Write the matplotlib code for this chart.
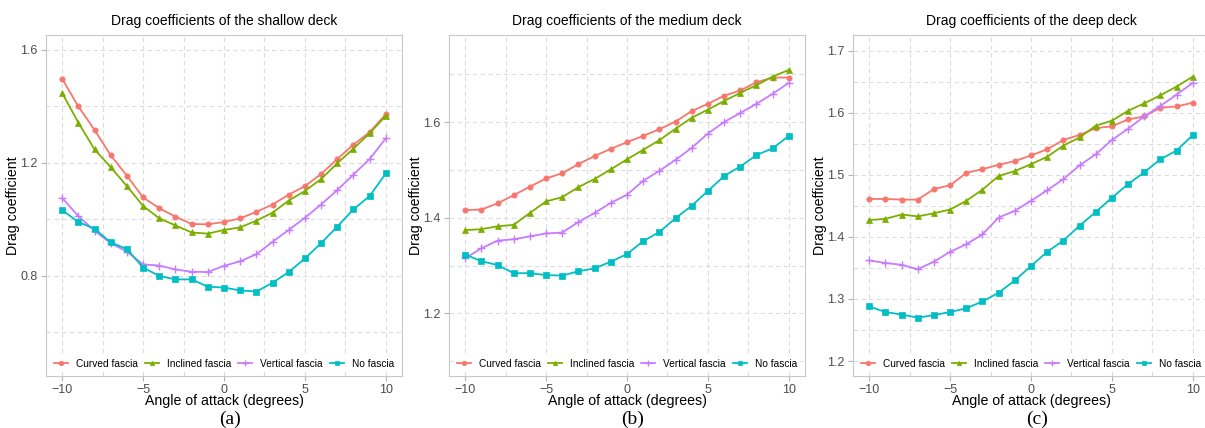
import numpy as np
import matplotlib.pyplot as plt
from matplotlib.ticker import MultipleLocator

plt.rcParams['font.family'] = ['Liberation Sans', 'DejaVu Sans']

angles = list(range(-10, 11))
series_names = ['Curved fascia', 'Inclined fascia', 'Vertical fascia', 'No fascia']
colors = ['#F8766D', '#7CAE00', '#C77CFF', '#00BFC4']
markers = ['o', '^', '+', 's']

# shallow deck
shallow_curved = [1.498, 1.400, 1.317, 1.227, 1.155, 1.078, 1.040, 1.010, 0.984, 0.983, 0.991,
                  1.004, 1.027, 1.053, 1.088, 1.118, 1.161, 1.214, 1.265, 1.309, 1.373]
shallow_inclined = [1.447, 1.343, 1.248, 1.185, 1.118, 1.048, 1.004, 0.979, 0.954, 0.950, 0.963,
                    0.972, 0.996, 1.024, 1.067, 1.101, 1.143, 1.199, 1.251, 1.305, 1.367]
shallow_vertical = [1.076, 1.012, 0.960, 0.916, 0.886, 0.841, 0.837, 0.823, 0.815, 0.814, 0.836,
                    0.852, 0.877, 0.921, 0.963, 1.006, 1.053, 1.104, 1.159, 1.214, 1.287]
shallow_none = [1.033, 0.991, 0.967, 0.919, 0.895, 0.830, 0.800, 0.788, 0.788, 0.762, 0.759,
                0.749, 0.745, 0.776, 0.814, 0.862, 0.916, 0.975, 1.036, 1.083, 1.163]

# medium deck
medium_curved = [1.416, 1.417, 1.430, 1.447, 1.465, 1.482, 1.493, 1.512, 1.529, 1.544, 1.558,
                 1.571, 1.585, 1.601, 1.623, 1.638, 1.655, 1.666, 1.683, 1.693, 1.693]
medium_inclined = [1.374, 1.376, 1.382, 1.385, 1.410, 1.434, 1.443, 1.464, 1.481, 1.501, 1.522,
                   1.542, 1.562, 1.586, 1.609, 1.626, 1.644, 1.661, 1.677, 1.695, 1.709]
medium_vertical = [1.315, 1.336, 1.352, 1.355, 1.361, 1.367, 1.369, 1.391, 1.410, 1.431, 1.448,
                   1.477, 1.498, 1.521, 1.546, 1.576, 1.600, 1.619, 1.638, 1.659, 1.682]
medium_none = [1.323, 1.309, 1.301, 1.284, 1.284, 1.280, 1.279, 1.288, 1.294, 1.308, 1.324,
               1.351, 1.370, 1.399, 1.425, 1.456, 1.487, 1.507, 1.531, 1.545, 1.571]

# deep deck
deep_curved = [1.461, 1.461, 1.460, 1.460, 1.477, 1.483, 1.503, 1.509, 1.516, 1.522, 1.531,
               1.541, 1.556, 1.564, 1.575, 1.578, 1.589, 1.594, 1.608, 1.610, 1.616]
deep_inclined = [1.427, 1.429, 1.436, 1.433, 1.438, 1.444, 1.458, 1.476, 1.498, 1.506, 1.517,
                 1.529, 1.547, 1.560, 1.579, 1.587, 1.603, 1.615, 1.628, 1.642, 1.658]
deep_vertical = [1.362, 1.358, 1.355, 1.348, 1.360, 1.376, 1.388, 1.404, 1.431, 1.442, 1.458,
                 1.475, 1.493, 1.515, 1.533, 1.556, 1.574, 1.594, 1.611, 1.629, 1.648]
deep_none = [1.288, 1.279, 1.275, 1.270, 1.274, 1.279, 1.285, 1.296, 1.310, 1.330, 1.353,
             1.376, 1.394, 1.418, 1.440, 1.463, 1.485, 1.504, 1.525, 1.539, 1.564]

panels = [
    ('Drag coefficients of the shallow deck', '(a)',
     [shallow_curved, shallow_inclined, shallow_vertical, shallow_none],
     (0.446, 1.653), 0.4, [0.8, 1.2, 1.6]),
    ('Drag coefficients of the medium deck', '(b)',
     [medium_curved, medium_inclined, medium_vertical, medium_none],
     (1.069, 1.782), 0.2, [1.2, 1.4, 1.6]),
    ('Drag coefficients of the deep deck', '(c)',
     [deep_curved, deep_inclined, deep_vertical, deep_none],
     (1.176, 1.725), 0.1, [1.2, 1.3, 1.4, 1.5, 1.6, 1.7]),
]

fig = plt.figure(figsize=(12.05, 4.28), dpi=100)
lefts = [46, 449, 853]
bottom = 1 - 376 / 428
height = (376 - 35) / 428
width = 356 / 1205

for (title, tag, data, ylim, ystep, yticks), left in zip(panels, lefts):
    ax = fig.add_axes([left / 1205, bottom, width, height])
    for vals, name, c, m in zip(data, series_names, colors, markers):
        ms = 5.5 if m == '+' else 3.8
        ax.plot(angles, vals, color=c, marker=m, markersize=ms, linewidth=1.3,
                markeredgewidth=1.0 if m == '+' else 0.5, label=name)
    ax.set_xlim(-11, 11)
    ax.set_ylim(*ylim)
    ax.set_xticks([-10, -5, 0, 5, 10])
    ax.set_xticklabels(['\u221210', '\u22125', '0', '5', '10'])
    ax.xaxis.set_minor_locator(MultipleLocator(2.5))
    ax.set_yticks(yticks)
    ax.set_yticklabels([f'{v:.1f}' for v in yticks])
    ax.yaxis.set_minor_locator(MultipleLocator(ystep / 2))
    ax.grid(True, which='both', color='#DCDCDC', linestyle=(0, (4, 3)), linewidth=0.8)
    ax.set_axisbelow(True)
    ax.tick_params(which='minor', length=0)
    ax.tick_params(which='major', length=3.5, color='#B3B3B3', labelsize=9,
                   labelcolor='#4D4D4D', pad=2.5)
    for s in ax.spines.values():
        s.set_color('#C8C8C8')
        s.set_linewidth(0.8)
    ax.set_title(title, fontsize=10, pad=7)
    ax.set_xlabel('Angle of attack (degrees)', fontsize=10.2, labelpad=-1.5)
    ax.set_ylabel('Drag coefficient', fontsize=10.2, labelpad=0)
    leg = ax.legend(loc='lower center', ncol=4, fontsize=7.3, frameon=True,
                    handlelength=1.4, handletextpad=0.75, columnspacing=0.7,
                    markerscale=0.85, borderaxespad=0.4, borderpad=0.3,
                    bbox_to_anchor=(0.5, 0.0))
    leg.get_frame().set_edgecolor('none')
    leg.get_frame().set_facecolor('white')
    leg.get_frame().set_alpha(1)
    fig.text((left + 184) / 1205, 1 - 419 / 428, tag, ha='center', va='center',
             fontsize=14, family='Liberation Serif')

fig.savefig('out.png', dpi=100)
